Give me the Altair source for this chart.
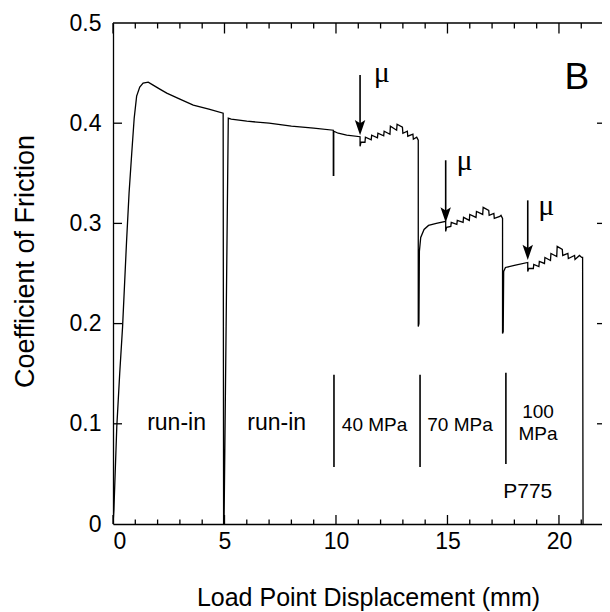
import altair as alt
import pandas as pd

# ---------------- data ----------------
# load point displacement (mm) and coefficient of friction, one continuous record
disp = [
    # run-in 1
    0.00, 0.04, 0.17, 0.30, 0.43, 0.61, 0.72, 0.84, 0.95, 1.06, 1.20, 1.35, 1.58, 1.80, 2.10, 2.41, 3.00, 3.60, 4.30, 4.94,
    # unload / reload, run-in 2
    4.96, 4.98, 5.17, 5.30, 6.00, 7.00, 8.00, 9.00, 9.88, 9.88, 9.90, 9.90, 10.10, 10.48, 11.08,
    # 40 MPa velocity steps
    11.08, 11.12, 11.30, 11.32, 11.58, 11.60, 11.86, 11.88, 12.14, 12.16, 12.42, 12.44, 12.72, 12.74,
    12.98, 13.00, 13.20, 13.22, 13.45, 13.47, 13.62, 13.69,
    # 70 MPa
    13.69, 13.72, 13.74, 13.80, 13.95, 14.15, 14.50, 14.92, 14.92, 14.96, 15.15, 15.17, 15.42, 15.44,
    15.70, 15.72, 15.98, 16.00, 16.28, 16.30, 16.58, 16.60, 16.85, 16.87, 17.08, 17.10, 17.35, 17.40, 17.47,
    # 100 MPa
    17.47, 17.50, 17.52, 17.60, 18.00, 18.60, 18.60, 18.64, 18.85, 18.87, 19.10, 19.12, 19.35, 19.37,
    19.62, 19.64, 19.90, 19.92, 20.15, 20.17, 20.40, 20.42, 20.70, 20.72, 20.92, 21.02, 21.06, 21.08,
]
mu = [
    0.000, 0.014, 0.097, 0.150, 0.197, 0.283, 0.330, 0.370, 0.405, 0.427, 0.436, 0.440, 0.441, 0.438, 0.434, 0.430, 0.424, 0.418, 0.414, 0.410,
    0.000, 0.000, 0.405, 0.404, 0.402, 0.400, 0.397, 0.395, 0.393, 0.348, 0.348, 0.392, 0.390, 0.388, 0.3865,
    0.377, 0.381, 0.381, 0.386, 0.3835, 0.388, 0.3855, 0.390, 0.3875, 0.392, 0.389, 0.397, 0.393, 0.399,
    0.396, 0.390, 0.392, 0.387, 0.389, 0.384, 0.386, 0.383,
    0.197, 0.200, 0.272, 0.286, 0.294, 0.298, 0.300, 0.302, 0.292, 0.296, 0.297, 0.301, 0.299, 0.303,
    0.301, 0.306, 0.303, 0.309, 0.306, 0.312, 0.309, 0.316, 0.313, 0.308, 0.310, 0.305, 0.307, 0.308, 0.305,
    0.190, 0.192, 0.252, 0.256, 0.258, 0.261, 0.252, 0.255, 0.255, 0.259, 0.257, 0.262, 0.260, 0.266,
    0.263, 0.270, 0.267, 0.277, 0.274, 0.268, 0.270, 0.265, 0.268, 0.264, 0.268, 0.266, 0.266, 0.000,
]

x_major = [0, 5, 10, 15, 20]
x_minor = [1, 2, 3, 4, 6, 7, 8, 9, 11, 12, 13, 14, 16, 17, 18, 19, 21]
y_ticks = [0.0, 0.1, 0.2, 0.3, 0.4, 0.5]
y_inner = [0.1, 0.2, 0.3, 0.4]

# normal-stress markers
marker_x = [9.91, 13.77, 17.62]
marker_top = [0.149, 0.149, 0.151]
marker_bot = [0.057, 0.057, 0.060]

# mu arrows
arrow_x = [11.08, 14.92, 18.60]
arrow_top = [0.448, 0.363, 0.323]
arrow_tip = [0.388, 0.301, 0.2635]
mu_label_x = [11.69, 15.41, 19.07]
mu_label_y = [0.441, 0.3533, 0.3084]

# text labels
runin_x = [2.85, 7.34]
runin_y = [0.1008, 0.1008]
stress_labels = ["40 MPa", "70 MPa", "100", "MPa"]
stress_x = [11.73, 15.56, 19.06, 19.06]
stress_y = [0.099, 0.099, 0.112, 0.0898]

# ---------------- chart ----------------
W, H = 489, 501
XMAX = 21.93
FONT = "Liberation Sans"

xs = alt.Scale(domain=[0, XMAX], nice=False, zero=False)
ys = alt.Scale(domain=[0, 0.5], nice=False)

X = lambda: alt.X("d:Q", scale=xs, title="Load Point Displacement (mm)")
Y = lambda: alt.Y("mu:Q", scale=ys, title="Coefficient of Friction")

curve = pd.DataFrame({"d": disp, "mu": mu, "i": list(range(len(disp)))})

line = alt.Chart(curve).mark_line(color="black", strokeWidth=1.3, clip=True).encode(
    x=alt.X("d:Q", scale=xs, axis=alt.Axis(
        values=x_major, title="Load Point Displacement (mm)", grid=False,
        ticks=False, tickSize=0, domain=True, domainColor="black", domainWidth=1.3,
        labelFont=FONT, labelFontSize=23, labelColor="black", labelPadding=6,
        titleFont=FONT, titleFontSize=25, titleFontWeight="normal", titleColor="black",
        titleBaseline="alphabetic", titleY=81, titleX=255)),
    y=alt.Y("mu:Q", scale=ys, axis=alt.Axis(
        values=y_ticks, format="~g", title="Coefficient of Friction", grid=False,
        ticks=False, tickSize=0, domain=True, domainColor="black", domainWidth=1.3,
        labelFont=FONT, labelFontSize=23, labelColor="black", labelPadding=12,
        titleFont=FONT, titleFontSize=27, titleFontWeight="normal", titleColor="black",
        titleBaseline="alphabetic", titleAngle=-90, titleX=-80, titleY=238, titleAlign="center")),
    order="i:Q",
)

xmaj = pd.DataFrame({"d": x_major})
xmin = pd.DataFrame({"d": x_minor})
yin = pd.DataFrame({"mu": y_inner})

def xr(df, y0, y1):
    return alt.Chart(df).mark_rule(color="black", strokeWidth=1.3).encode(
        x=X(), y=alt.value(y0), y2=alt.value(y1))

def yr(df, x0, x1):
    return alt.Chart(df).mark_rule(color="black", strokeWidth=1.3).encode(
        y=Y(), x=alt.value(x0), x2=alt.value(x1))

ticks = [
    xr(xmaj, H, H - 9), xr(xmin, H, H - 4.5),
    xr(xmaj, 0, 10.5), xr(xmin, 0, 5.5),
    yr(yin, 0, 9), yr(yin, W - 5, W),
]
top_border = alt.Chart(xmaj.head(1)).mark_rule(color="black", strokeWidth=1.3).encode(
    x=alt.value(0), x2=alt.value(W), y=alt.value(0))

markers = alt.Chart(pd.DataFrame({"d": marker_x, "mu": marker_top, "mu2": marker_bot})).mark_rule(
    color="black", strokeWidth=1.6).encode(x=X(), y=Y(), y2="mu2:Q")

shaft = alt.Chart(pd.DataFrame({"d": arrow_x, "mu": arrow_top,
                                "mu2": [t + 0.008 for t in arrow_tip]})).mark_rule(
    color="black", strokeWidth=1.6).encode(x=X(), y=Y(), y2="mu2:Q")
head = alt.Chart(pd.DataFrame({"d": arrow_x, "mu": arrow_tip})).mark_point(
    shape="M0,0 L-0.55,-1.6 L0,-1.25 L0.55,-1.6 Z", filled=True, size=360, color="black", opacity=1,
    strokeWidth=0).encode(x=X(), y=Y())

mu_txt = alt.Chart(pd.DataFrame({"d": mu_label_x, "mu": mu_label_y, "t": ["μ"] * 3})).mark_text(
    font="Liberation Serif", fontSize=30, align="left", baseline="alphabetic", color="black").encode(
    x=X(), y=Y(), text="t:N")

runin = alt.Chart(pd.DataFrame({"d": runin_x, "mu": runin_y, "t": ["run-in", "run-in"]})).mark_text(
    font=FONT, fontSize=23, align="center", baseline="middle", color="black").encode(
    x=X(), y=Y(), text="t:N")

stress = alt.Chart(pd.DataFrame({"d": stress_x, "mu": stress_y, "t": stress_labels})).mark_text(
    font=FONT, fontSize=19, align="center", baseline="middle", color="black").encode(
    x=X(), y=Y(), text="t:N")

p775 = alt.Chart(pd.DataFrame({"d": [18.6], "mu": [0.032], "t": ["P775"]})).mark_text(
    font=FONT, fontSize=21, align="center", baseline="middle", color="black").encode(
    x=X(), y=Y(), text="t:N")

panel = alt.Chart(pd.DataFrame({"d": [20.8], "mu": [0.445], "t": ["B"]})).mark_text(
    font=FONT, fontSize=37, align="center", baseline="middle", color="black").encode(
    x=X(), y=Y(), text="t:N")

chart = alt.layer(
    line, *ticks, top_border, markers, shaft, head, mu_txt, runin, stress, p775, panel
).properties(
    width=W, height=H,
    padding={"left": 105, "top": 15, "right": 0, "bottom": 88},
    autosize=alt.AutoSizeParams(type="none"),
    background="white",
).configure_view(stroke=None)

chart.save("out.html", embed_options={"renderer": "svg", "actions": False})
